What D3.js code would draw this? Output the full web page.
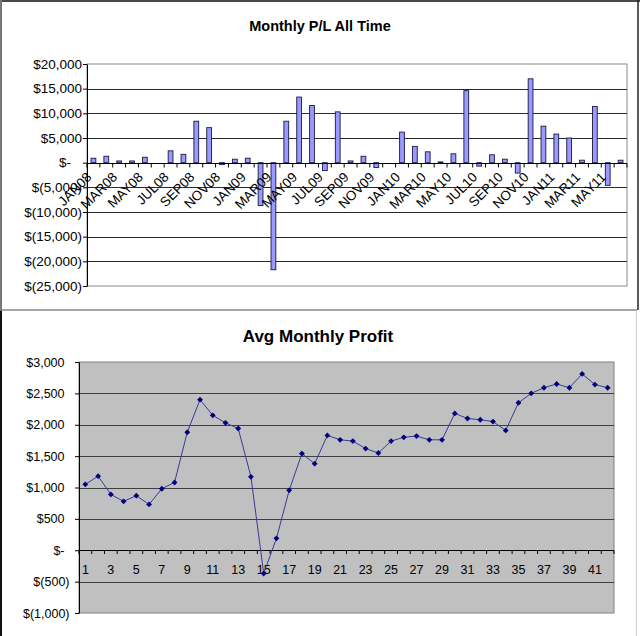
<!DOCTYPE html>
<html>
<head>
<meta charset="utf-8">
<script src="https://cdn.jsdelivr.net/npm/d3@7/dist/d3.min.js"></script>
<style>
    body { margin: 0; background: #fff; }
    svg { display: block; }
    text { font-family: "Liberation Sans", Arial, sans-serif; fill: #000; }
</style>
</head>
<body>
<svg id="chart" width="640" height="636"></svg>
<script>
'use strict';

// monthly P/L, Jan 2008 .. Jun 2011
var months = ["JAN08", "FEB08", "MAR08", "APR08", "MAY08", "JUN08", "JUL08", "AUG08", "SEP08", "OCT08", "NOV08", "DEC08",
              "JAN09", "FEB09", "MAR09", "APR09", "MAY09", "JUN09", "JUL09", "AUG09", "SEP09", "OCT09", "NOV09", "DEC09",
              "JAN10", "FEB10", "MAR10", "APR10", "MAY10", "JUN10", "JUL10", "AUG10", "SEP10", "OCT10", "NOV10", "DEC10",
              "JAN11", "FEB11", "MAR11", "APR11", "MAY11", "JUN11"];
var monthlyPL = [900, 1300, 350, 350, 1100, 0, 2400, 1700, 8400, 7100, -400, 700,
                 900, -8700, -21700, 8400, 13300, 11600, -1600, 10300, 350, 1300, -1000, 0,
                 6200, 3300, 2200, 150, 1800, 14600, -700, 1600, 700, -2100, 17000, 7400,
                 5800, 5000, 500, 11400, -4600, 500];
var plTicks = [20000, 15000, 10000, 5000, 0, -5000, -10000, -15000, -20000, -25000];

// running average monthly profit, month 1 .. 42
var periods = d3.range(1, 43);
var avgProfit = [1050, 1180, 890, 780, 870, 730, 980, 1080, 1880, 2400,
                 2150, 2030, 1940, 1170, -370, 190, 955, 1540, 1380, 1830,
                 1760, 1740, 1620, 1550, 1740, 1800, 1820, 1760, 1760, 2180,
                 2100, 2080, 2050, 1910, 2350, 2500, 2590, 2650, 2590, 2810,
                 2640, 2590];
var avgTicks = [3000, 2500, 2000, 1500, 1000, 500, 0, -500, -1000];

var svg = d3.select("#chart");

// excel accounting style: $1,000  $(500)  $-
function acct(v) {
    if (v === 0) {
        return "$-";
    }
    var s = d3.format(",")(Math.abs(v));
    return v < 0 ? "$(" + s + ")" : "$" + s;
}

function drawFrames() {
    svg.append("rect").attr("x", 0).attr("y", 0).attr("width", 640).attr("height", 636).attr("fill", "#fff");
    svg.append("line").attr("x1", 0).attr("x2", 640).attr("y1", 1).attr("y2", 1)
        .attr("stroke", "#4a4a4a").attr("stroke-width", 2);
    svg.append("line").attr("x1", 1).attr("x2", 1).attr("y1", 0).attr("y2", 310)
        .attr("stroke", "#777").attr("stroke-width", 2);
    svg.append("line").attr("x1", 1).attr("x2", 1).attr("y1", 310).attr("y2", 636)
        .attr("stroke", "#111").attr("stroke-width", 2);
    svg.append("line").attr("x1", 638).attr("x2", 638).attr("y1", 0).attr("y2", 310)
        .attr("stroke", "#222").attr("stroke-width", 1.5);
    svg.append("line").attr("x1", 636.5).attr("x2", 636.5).attr("y1", 311).attr("y2", 636)
        .attr("stroke", "#d0d0d0").attr("stroke-width", 1);
    svg.append("line").attr("x1", 0).attr("x2", 637).attr("y1", 310).attr("y2", 310)
        .attr("stroke", "#888").attr("stroke-width", 1.5);
}

function drawBarChart() {
    var left = 87, right = 627, top = 64, bottom = 286;
    var g = svg.append("g");

    var x = d3.scaleBand().domain(months).range([left, right]).padding(0);
    var y = d3.scaleLinear().domain([-25000, 20000]).range([bottom, top]);

    g.append("text")
        .attr("x", 320).attr("y", 30.5)
        .attr("text-anchor", "middle")
        .attr("font-size", "14.5px")
        .attr("font-weight", "bold")
        .text("Monthly P/L All Time");

    // plot border
    g.append("rect")
        .attr("x", left).attr("y", top)
        .attr("width", right - left).attr("height", bottom - top)
        .attr("fill", "none").attr("stroke", "#8a8a8a");

    g.selectAll("line.grid")
        .data(plTicks.filter(function (d) { return d !== 0 && d !== 20000 && d !== -25000; }))
        .enter()
        .append("line")
        .attr("class", "grid")
        .attr("x1", left).attr("x2", right)
        .attr("y1", function (d) { return Math.round(y(d)) + 0.5; })
        .attr("y2", function (d) { return Math.round(y(d)) + 0.5; })
        .attr("stroke", "#2a2a2a");

    var yAxis = g.append("g")
        .attr("transform", "translate(" + left + ",0)")
        .call(d3.axisLeft(y).tickValues(plTicks).tickSize(4).tickSizeOuter(0).tickFormat(acct));
    yAxis.select(".domain").attr("stroke", "#000");
    yAxis.selectAll(".tick line").attr("stroke", "#000");
    yAxis.selectAll(".tick text")
        .attr("font-size", "13.5px")
        .attr("font-family", null)
        .attr("x", function (d) { return d === 0 ? -16 : -5; });

    g.selectAll("rect.bar")
        .data(monthlyPL)
        .enter()
        .append("rect")
        .attr("class", "bar")
        .attr("x", function (d, i) { return x(months[i]) + x.bandwidth() / 2 - 2.4; })
        .attr("width", 4.8)
        .attr("y", function (d) { return y(Math.max(0, d)); })
        .attr("height", function (d) { return Math.abs(y(d) - y(0)); })
        .attr("fill", "#9999ff")
        .attr("stroke", "#1a1a40")
        .attr("stroke-width", 0.9);

    // category axis along zero
    var y0 = Math.round(y(0)) + 0.5;
    g.append("line")
        .attr("x1", left).attr("x2", right)
        .attr("y1", y0).attr("y2", y0)
        .attr("stroke", "#000");
    g.selectAll("line.ctick")
        .data(months.concat([null]))
        .enter()
        .append("line")
        .attr("class", "ctick")
        .attr("x1", function (d) { return d === null ? right : x(d); })
        .attr("x2", function (d) { return d === null ? right : x(d); })
        .attr("y1", y0).attr("y2", y0 + 4)
        .attr("stroke", "#000");

    g.selectAll("text.month")
        .data(months.filter(function (d, i) { return i % 2 === 0; }))
        .enter()
        .append("text")
        .attr("class", "month")
        .attr("transform", function (d) {
            return "translate(" + (x(d) + x.bandwidth() / 2 - 1) + "," + 178 + ") rotate(-45)";
        })
        .attr("text-anchor", "end")
        .attr("font-size", "13.5px")
        .text(function (d) { return d; });
}

function drawLineChart() {
    var left = 79, right = 614, top = 362, bottom = 613;
    var g = svg.append("g");

    var x = d3.scaleBand().domain(periods).range([left, right]).padding(0);
    var y = d3.scaleLinear().domain([-1000, 3000]).range([bottom, top]);

    g.append("text")
        .attr("x", 318).attr("y", 341.5)
        .attr("text-anchor", "middle")
        .attr("font-size", "17px")
        .attr("font-weight", "bold")
        .text("Avg Monthly Profit");

    g.append("rect")
        .attr("x", left).attr("y", top)
        .attr("width", right - left).attr("height", bottom - top)
        .attr("fill", "#c0c0c0").attr("stroke", "#808080");

    g.selectAll("line.grid")
        .data(avgTicks.filter(function (d) { return d !== 0 && d !== 3000 && d !== -1000; }))
        .enter()
        .append("line")
        .attr("class", "grid")
        .attr("x1", left).attr("x2", right)
        .attr("y1", function (d) { return Math.round(y(d)) + 0.5; })
        .attr("y2", function (d) { return Math.round(y(d)) + 0.5; })
        .attr("stroke", "#404040");

    var yAxis = g.append("g")
        .attr("transform", "translate(" + left + ",0)")
        .call(d3.axisLeft(y).tickValues(avgTicks).tickSize(4).tickSizeOuter(0).tickFormat(acct));
    yAxis.select(".domain").attr("stroke", "#000");
    yAxis.selectAll(".tick line").attr("stroke", "#000");
    yAxis.selectAll(".tick text")
        .attr("font-size", "12.5px")
        .attr("font-family", null)
        .attr("x", function (d) { return d < 0 ? -9.5 : -14.5; });

    var y0 = Math.round(y(0)) + 0.5;
    g.append("line")
        .attr("x1", left).attr("x2", right)
        .attr("y1", y0).attr("y2", y0)
        .attr("stroke", "#000");
    g.selectAll("line.ctick")
        .data(periods.concat([null]))
        .enter()
        .append("line")
        .attr("class", "ctick")
        .attr("x1", function (d) { return d === null ? right : x(d); })
        .attr("x2", function (d) { return d === null ? right : x(d); })
        .attr("y1", y0).attr("y2", y0 + 3.5)
        .attr("stroke", "#000");

    g.selectAll("text.period")
        .data(periods.filter(function (d) { return d % 2 === 1; }))
        .enter()
        .append("text")
        .attr("class", "period")
        .attr("x", function (d) { return x(d) + x.bandwidth() / 2; })
        .attr("y", 573.5)
        .attr("text-anchor", "middle")
        .attr("font-size", "12.5px")
        .text(function (d) { return d; });

    var cx = function (d, i) { return x(periods[i]) + x.bandwidth() / 2; };

    g.append("path")
        .datum(avgProfit)
        .attr("fill", "none")
        .attr("stroke", "#3a3a9a")
        .attr("stroke-width", 1)
        .attr("d", d3.line().x(cx).y(function (d) { return y(d); }));

    g.selectAll("path.marker")
        .data(avgProfit)
        .enter()
        .append("path")
        .attr("class", "marker")
        .attr("d", d3.symbol(d3.symbolSquare, 17))
        .attr("transform", function (d, i) {
            return "translate(" + cx(d, i) + "," + y(d) + ") rotate(45)";
        })
        .attr("fill", "#000080");
}

drawFrames();
drawBarChart();
drawLineChart();
</script>
</body>
</html>
